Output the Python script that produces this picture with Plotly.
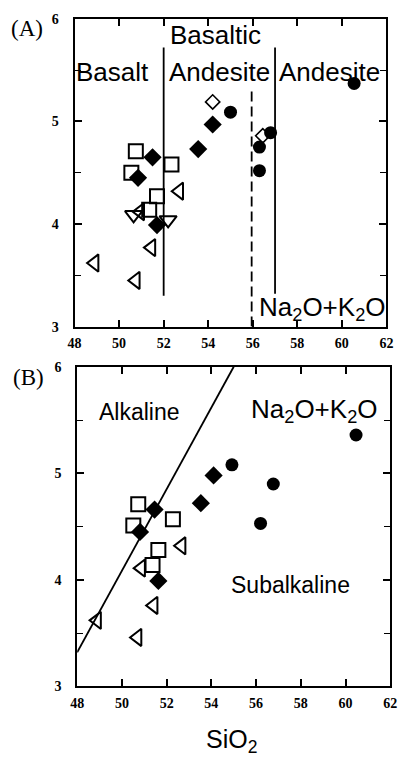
import plotly.graph_objects as go

# --- Panel A: rock classification by SiO2 ---
sq_a_x = [50.75, 52.35, 50.55, 51.70, 51.35]
sq_a_y = [4.71, 4.58, 4.50, 4.27, 4.14]
dia_a_x = [51.50, 50.85, 51.70, 53.55, 54.20]
dia_a_y = [4.65, 4.45, 3.99, 4.73, 4.97]
circ_a_x = [55.00, 56.80, 56.30, 56.30, 60.55]
circ_a_y = [5.09, 4.89, 4.75, 4.52, 5.37]
tril_a_x = [52.70, 50.95, 51.45, 48.90, 50.75]
tril_a_y = [4.32, 4.12, 3.77, 3.62, 3.45]
trid_a_x = [50.65, 52.20]
trid_a_y = [4.09, 4.04]
odia_a_x = [54.20, 56.45]
odia_a_y = [5.19, 4.86]

# field boundaries (SiO2 wt%)
basalt_bound_x = [52.0, 52.0]
basalt_bound_y = [3.30, 5.72]
andesite_bound_x = [57.0, 57.0]
andesite_bound_y = [3.32, 5.72]
dashed_bound_x = [55.95, 55.95]
dashed_bound_y = [3.0, 5.30]

# --- Panel B: alkaline vs subalkaline ---
sq_b_x = [50.73, 52.28, 50.51, 51.63, 51.37]
sq_b_y = [4.71, 4.57, 4.51, 4.28, 4.14]
dia_b_x = [51.46, 50.81, 51.63, 53.53, 54.10]
dia_b_y = [4.66, 4.45, 3.99, 4.72, 4.98]
circ_b_x = [54.92, 56.77, 56.20, 60.47]
circ_b_y = [5.08, 4.90, 4.53, 5.36]
tril_b_x = [52.67, 50.86, 51.42, 48.89, 50.70]
tril_b_y = [4.32, 4.11, 3.76, 3.62, 3.46]
alk_line_x = [48.0, 55.0]
alk_line_y = [3.32, 6.0]

x_ticks = [48, 50, 52, 54, 56, 58, 60, 62]
y_ticks = [3, 4, 5, 6]

BLACK = "black"
fig = go.Figure()


def add_points(xs, ys, symbol, size, xa, ya, lw=2.0):
    fig.add_trace(go.Scatter(
        x=xs, y=ys, mode="markers", xaxis=xa, yaxis=ya,
        marker=dict(symbol=symbol, size=size, color=BLACK,
                    line=dict(color=BLACK, width=lw)),
        showlegend=False, hoverinfo="x+y"))


def add_line(xs, ys, xa, ya, dash="solid", width=1.8):
    fig.add_trace(go.Scatter(
        x=xs, y=ys, mode="lines", xaxis=xa, yaxis=ya,
        line=dict(color=BLACK, width=width, dash=dash),
        showlegend=False, hoverinfo="skip"))


# panel A
add_line(basalt_bound_x, basalt_bound_y, "x", "y")
add_line(andesite_bound_x, andesite_bound_y, "x", "y")
add_line(dashed_bound_x, dashed_bound_y, "x", "y", dash="10px,5px")
add_points(sq_a_x, sq_a_y, "square-open", 14, "x", "y")
add_points(tril_a_x, tril_a_y, "triangle-left-open", 15, "x", "y")
add_points(trid_a_x, trid_a_y, "triangle-down-open", 15, "x", "y")
add_points(dia_a_x, dia_a_y, "diamond", 14, "x", "y", lw=0)
add_points(odia_a_x, odia_a_y, "diamond-open", 11, "x", "y", lw=1.6)
add_points(circ_a_x, circ_a_y, "circle", 13, "x", "y", lw=0)

# panel B
add_line(alk_line_x, alk_line_y, "x2", "y2")
add_points(sq_b_x, sq_b_y, "square-open", 14, "x2", "y2")
add_points(tril_b_x, tril_b_y, "triangle-left-open", 15, "x2", "y2")
add_points(dia_b_x, dia_b_y, "diamond", 14, "x2", "y2", lw=0)
add_points(circ_b_x, circ_b_y, "circle", 13, "x2", "y2", lw=0)

tick_font = dict(family="Liberation Serif", size=14, color=BLACK)
common_x = dict(range=[48, 62], tickvals=x_ticks,
                ticktext=[f"<b>{v}</b>" for v in x_ticks],
                ticks="inside", ticklen=7, tickwidth=1.8, tickcolor=BLACK,
                showline=True, linewidth=2, linecolor=BLACK, mirror="ticks",
                showgrid=False, zeroline=False, tickfont=tick_font,
                ticklabelstandoff=3)
common_y = dict(range=[3, 6], tickvals=y_ticks,
                ticktext=[f"<b>{v}</b>" for v in y_ticks],
                ticks="inside", ticklen=7, tickwidth=1.8, tickcolor=BLACK,
                minor=dict(dtick=0.5, tick0=3, ticks="inside", ticklen=6,
                           tickwidth=1.4, tickcolor=BLACK),
                showline=True, linewidth=2, linecolor=BLACK, mirror="ticks",
                showgrid=False, zeroline=False, tickfont=tick_font,
                ticklabelstandoff=11)

fig.update_layout(
    width=405, height=766,
    margin=dict(l=0, r=0, t=0, b=0),
    paper_bgcolor="white", plot_bgcolor="white",
    xaxis=dict(domain=[0.1728, 0.9704], anchor="y", **common_x),
    yaxis=dict(domain=[0.5744, 0.9843], anchor="x", **common_y),
    xaxis2=dict(domain=[0.1795, 0.9802], anchor="y2", **common_x),
    yaxis2=dict(domain=[0.0953, 0.5209], anchor="x2", **common_y),
)

sans = "Liberation Sans"
serif = "Liberation Serif"


def label(text, x, y, size, xref="x", yref="y", family=sans):
    fig.add_annotation(text=text, x=x, y=y, xref=xref, yref=yref,
                       showarrow=False, xanchor="center", yanchor="middle",
                       font=dict(family=family, size=size, color=BLACK))


label("Basaltic", 54.32, 5.84, 26)
label("Basalt", 49.70, 5.48, 26)
label("Andesite", 54.50, 5.48, 26)
label("Andesite", 59.45, 5.48, 26)
label("Na<sub>2</sub>O+K<sub>2</sub>O", 59.10, 3.18, 26)

label("Alkaline", 50.77, 5.58, 23, xref="x2", yref="y2")
label("Na<sub>2</sub>O+K<sub>2</sub>O", 58.60, 5.59, 26, xref="x2", yref="y2")
label("Subalkaline", 57.54, 3.95, 23, xref="x2", yref="y2")

label("SiO<sub>2</sub>", 0.575, 0.023, 25, xref="paper", yref="paper")
label("(A)", 21 / 405, 1 - 22 / 766, 23, xref="paper", yref="paper", family=serif)
label("(B)", 22 / 405, 1 - 378 / 766, 23, xref="paper", yref="paper", family=serif)

fig.write_html("out.html")
